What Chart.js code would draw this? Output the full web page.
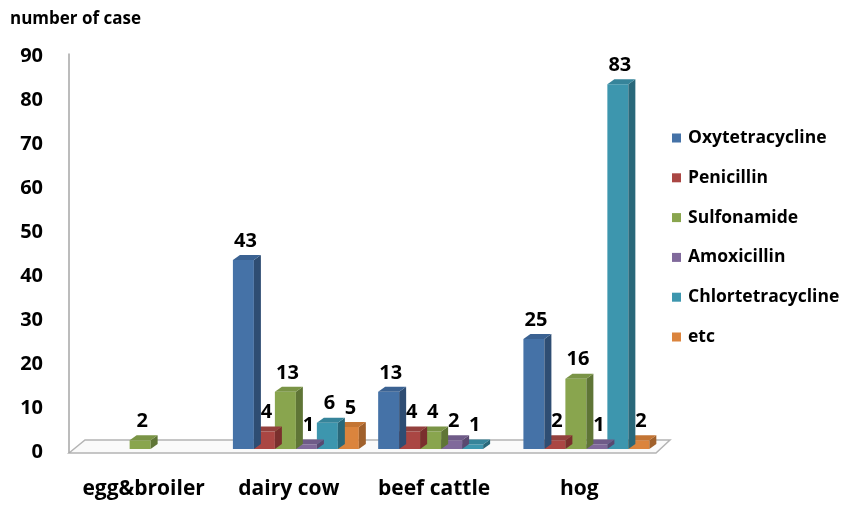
<!DOCTYPE html>
<html>
<head>
<meta charset="utf-8">
<script src="https://cdn.jsdelivr.net/npm/chart.js@4.4.1/dist/chart.umd.min.js"></script>
<style>
  html, body { margin: 0; padding: 0; background: #fff; }
  #wrap { width: 854px; height: 506px; position: relative; }
</style>
</head>
<body>
<div id="wrap"><canvas id="cases"></canvas></div>
<script>
const categories = ['egg&broiler', 'dairy cow', 'beef cattle', 'hog'];
const drugNames = ['Oxytetracycline', 'Penicillin', 'Sulfonamide', 'Amoxicillin', 'Chlortetracycline', 'etc'];

const oxytetracycline = [null, 43, 13, 25];
const penicillin = [null, 4, 4, 2];
const sulfonamide = [2, 13, 4, 16];
const amoxicillin = [null, 1, 2, 1];
const chlortetracycline = [null, 6, 1, 83];
const etc = [null, 5, null, 2];

const yMin = 0;
const yMax = 90;
const yStep = 10;

// front / side / top shades for each series
const frontColors = ['#4572A7', '#AA4643', '#89A54E', '#80699B', '#3D96AE', '#DB843D'];
const sideColors  = ['#2E4D73', '#7A2F2D', '#5F7536', '#5A4870', '#29687A', '#A0602B'];
const topColors   = ['#3B6292', '#93403D', '#7A9446', '#6F5B88', '#36849A', '#C37534'];

const seriesValues = [oxytetracycline, penicillin, sulfonamide, amoxicillin, chlortetracycline, etc];

const DX = 7, DY = 5;   // depth of the bar boxes
const FONT = '"Open Sans"';

const datasets = drugNames.map((name, i) => ({
  label: name,
  data: seriesValues[i],
  backgroundColor: frontColors[i],
  borderWidth: 0,
  barPercentage: 1,
  categoryPercentage: 0.867
}));

// floor, axis line, box sides and value labels
const boxes3d = {
  id: 'boxes3d',
  beforeDatasetsDraw(chart) {
    const { ctx, chartArea } = chart;
    const y0 = chart.scales.y.getPixelForValue(0);
    const l = chartArea.left, r = chartArea.right;
    ctx.save();
    ctx.beginPath();
    ctx.moveTo(l - 9, y0 + 4);
    ctx.lineTo(l + 7, y0 - 9);
    ctx.lineTo(r + 11, y0 - 9);
    ctx.lineTo(r - 3, y0 + 4);
    ctx.closePath();
    ctx.fillStyle = '#fafafa';
    ctx.fill();
    ctx.strokeStyle = '#b4b4b4';
    ctx.lineWidth = 1.5;
    ctx.stroke();
    // vertical axis
    ctx.beginPath();
    ctx.moveTo(l - 9, chartArea.top);
    ctx.lineTo(l - 9, y0 + 4);
    ctx.strokeStyle = '#a6a6a6';
    ctx.lineWidth = 1.5;
    ctx.stroke();
    ctx.restore();
  },
  afterDatasetDraw(chart, args) {
    const { ctx } = chart;
    const i = args.index;
    const meta = args.meta;
    ctx.save();
    meta.data.forEach((bar, j) => {
      if (chart.data.datasets[i].data[j] == null) return;
      const p = bar.getProps(['x', 'y', 'base', 'width'], true);
      const left = p.x - p.width / 2, right = p.x + p.width / 2;
      // side
      ctx.beginPath();
      ctx.moveTo(right, p.y);
      ctx.lineTo(right + DX, p.y - DY);
      ctx.lineTo(right + DX, p.base - DY);
      ctx.lineTo(right, p.base);
      ctx.closePath();
      ctx.fillStyle = sideColors[i];
      ctx.fill();
      // top
      ctx.beginPath();
      ctx.moveTo(left, p.y);
      ctx.lineTo(left + DX, p.y - DY);
      ctx.lineTo(right + DX, p.y - DY);
      ctx.lineTo(right, p.y);
      ctx.closePath();
      ctx.fillStyle = topColors[i];
      ctx.fill();
    });
    ctx.restore();
  },
  afterDatasetsDraw(chart) {
    const { ctx } = chart;
    ctx.save();
    ctx.font = 'bold 20px ' + FONT;
    ctx.fillStyle = '#000';
    ctx.textAlign = 'center';
    ctx.textBaseline = 'bottom';
    chart.data.datasets.forEach((ds, i) => {
      chart.getDatasetMeta(i).data.forEach((bar, j) => {
        const v = ds.data[j];
        if (v == null) return;
        const p = bar.getProps(['x', 'y'], true);
        ctx.fillText(String(v), p.x + 2, p.y - DY - 4);
      });
    });
    ctx.restore();
  },
  afterDraw(chart) {
    // legend column on the right
    const { ctx } = chart;
    ctx.save();
    ctx.font = 'bold 17.5px ' + FONT;
    ctx.textBaseline = 'middle';
    ctx.textAlign = 'left';
    chart.data.datasets.forEach((ds, i) => {
      const cy = 138 + i * 39.8;
      ctx.fillStyle = frontColors[i];
      ctx.fillRect(672, cy - 4.5, 9, 9);
      ctx.fillStyle = '#000';
      ctx.fillText(ds.label, 688, cy);
    });
    ctx.restore();
  }
};

new Chart(document.getElementById('cases'), {
  type: 'bar',
  data: { labels: categories, datasets: datasets },
  options: {
    responsive: true,
    maintainAspectRatio: false,
    animation: false,
    layout: { padding: { left: 10, right: 195, top: 0, bottom: 0 } },
    plugins: {
      legend: { display: false },
      tooltip: { enabled: false },
      title: {
        display: true,
        text: 'number of case',
        align: 'start',
        color: '#000',
        font: { family: FONT, size: 17, weight: 'bold' },
        padding: { top: 9, bottom: 24 }
      }
    },
    scales: {
      x: {
        grid: { display: false, drawTicks: false },
        border: { display: false },
        ticks: {
          color: '#000',
          font: { family: FONT, size: 21, weight: 'bold' },
          padding: 27,
          labelOffset: -7,
          maxRotation: 0
        },
        afterFit(scale) { scale.height = 57; }
      },
      y: {
        min: yMin,
        max: yMax,
        grid: { display: false, drawTicks: false },
        border: { display: false },
        ticks: {
          stepSize: yStep,
          color: '#000',
          font: { family: FONT, size: 20, weight: 'bold' },
          padding: 35,
          labelOffset: 3
        },
        afterFit(scale) { scale.width = 68; }
      }
    }
  },
  plugins: [boxes3d]
});
</script>
</body>
</html>
